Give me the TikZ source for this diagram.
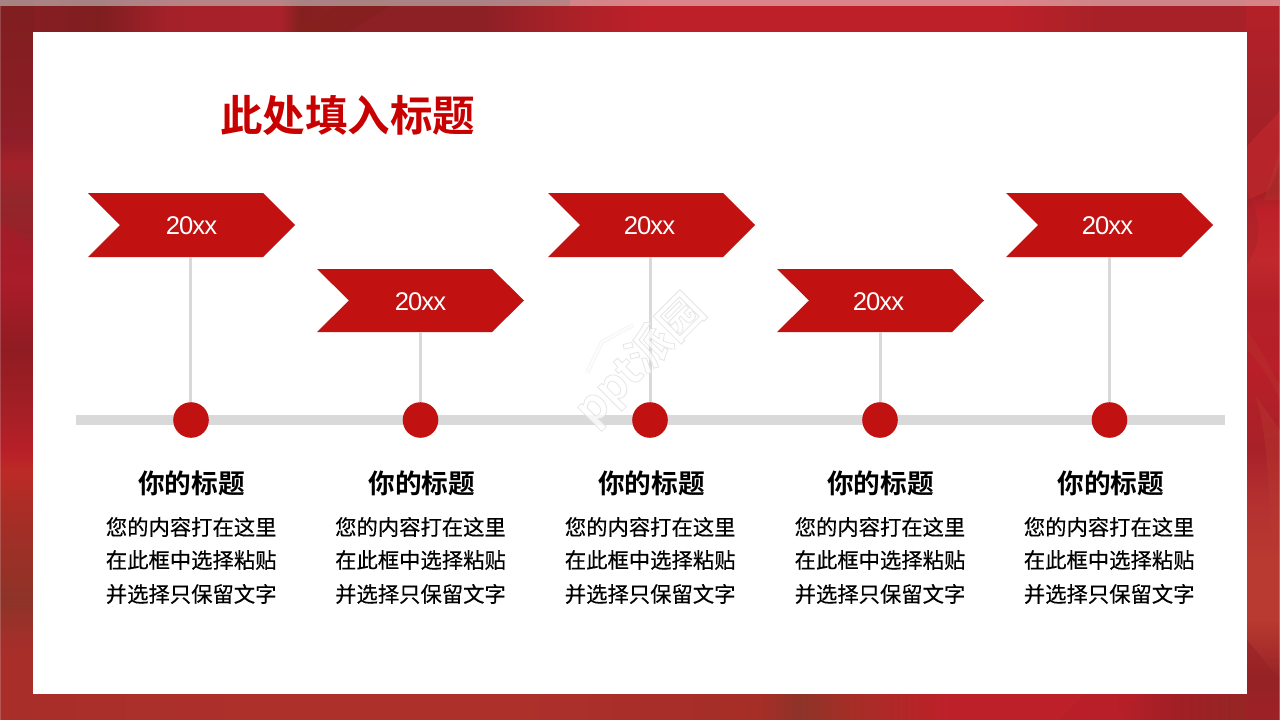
\documentclass[tikz,border=0pt]{standalone}
\usepackage{fontspec}
\setmainfont{Liberation Sans}
\newfontfamily\yearfont[LetterSpace=-3.5]{Liberation Sans}
\newfontfamily\cjk[FakeBold=0.3]{Noto Sans CJK SC}
\newfontfamily\cjkb{Noto Sans CJK SC Bold}
\newfontfamily\wmfont{Noto Sans CJK SC Bold}
\usetikzlibrary{calc}
\definecolor{brand}{HTML}{C11111}
\definecolor{titlered}{HTML}{C80000}
\definecolor{track}{HTML}{D9D9D9}
% palette for the frame
\definecolor{fa}{HTML}{8A1E24}\definecolor{fb}{HTML}{7F1E20}\definecolor{fc}{HTML}{A5212A}
\definecolor{fd}{HTML}{A9212B}\definecolor{fe}{HTML}{85201F}\definecolor{ff}{HTML}{8C2025}
\definecolor{fg}{HTML}{A82128}\definecolor{fh}{HTML}{BE2029}\definecolor{fi}{HTML}{A82E2A}
\definecolor{fj}{HTML}{AE302B}\definecolor{fk}{HTML}{8E3329}\definecolor{fl}{HTML}{8E2A22}
\definecolor{fm}{HTML}{A01F25}\definecolor{fn}{HTML}{8F1E28}\definecolor{fo}{HTML}{92262A}
\definecolor{fp}{HTML}{9A2028}\definecolor{fq}{HTML}{AA1C2A}\definecolor{fr}{HTML}{901C22}
\definecolor{fs}{HTML}{B81F28}\definecolor{ft}{HTML}{BC2A26}\definecolor{fu}{HTML}{A52E26}
\definecolor{fv}{HTML}{B52028}\definecolor{fw}{HTML}{C0282C}\definecolor{fx}{HTML}{B43030}
\definecolor{fy}{HTML}{B83A30}\definecolor{fz}{HTML}{962226}
\pgfdeclarehorizontalshading{frametop}{100bp}{color(0bp)=(fa); color(25bp)=(fa); color(28.9bp)=(fb); color(31.65bp)=(fc); color(35.95bp)=(fd); color(36.7bp)=(fe); color(38.65bp)=(ff); color(43.75bp)=(ff); color(46.9bp)=(fg); color(50.4bp)=(fh); color(56.25bp)=(fh); color(64.05bp)=(fh); color(67.95bp)=(fg); color(75bp)=(fg); color(100bp)=(fg)}
\pgfdeclarehorizontalshading{framebot}{100bp}{color(0bp)=(fi); color(25bp)=(fi); color(36.7bp)=(fj); color(44.55bp)=(fj); color(50.4bp)=(fi); color(54.7bp)=(fu); color(56.25bp)=(fk); color(58.2bp)=(fu); color(62.1bp)=(fh); color(67.95bp)=(fh); color(71.1bp)=(fm); color(75bp)=(fl); color(100bp)=(fl)}
\pgfdeclareverticalshading{frameleft}{100bp}{color(0bp)=(fb); color(25bp)=(fb); color(31.95bp)=(fa); color(34.7bp)=(fn); color(36.45bp)=(fc); color(38.9bp)=(fo); color(41.65bp)=(fp); color(44.45bp)=(fq); color(49.3bp)=(fr); color(52.8bp)=(fm); color(56.25bp)=(fs); color(57.65bp)=(ft); color(61.1bp)=(fu); color(66.65bp)=(fk); color(70.15bp)=(fi); color(75bp)=(fi); color(100bp)=(fi)}
\pgfdeclareverticalshading{frameright}{100bp}{color(0bp)=(fv); color(25bp)=(fv); color(31.95bp)=(fg); color(38.2bp)=(fm); color(39.6bp)=(fh); color(43.05bp)=(fw); color(45.85bp)=(fv); color(50.7bp)=(fs); color(56.25bp)=(fg); color(59.7bp)=(fx); color(63.9bp)=(fy); color(68.05bp)=(fy); color(72.2bp)=(fz); color(75bp)=(fg); color(100bp)=(fg)}
\tikzset{
  x=1pt,y=-1pt,
  ribbon/.style={fill=brand,draw=none},
  stem/.style={draw=track,line width=3pt},
  rail/.style={draw=track,line width=10pt},
  dot/.style={circle,fill=brand,draw=none,minimum size=35.6pt,inner sep=0pt},
  yearlab/.style={text=white,font=\yearfont\fontsize{25.6}{26}\selectfont,inner sep=0pt,anchor=center},
  titlelab/.style={text=titlered,font=\cjkb\fontsize{42.5}{46}\selectfont,inner sep=0pt,anchor=center},
  headlab/.style={text=black,font=\cjkb\fontsize{26.67}{30}\selectfont,inner sep=0pt,anchor=center},
  bodylab/.style={text=black,font=\cjk\fontsize{21.33}{25}\selectfont,inner sep=0pt,anchor=center},
  wmface/.style={text=white,opacity=.75,font=\wmfont\fontsize{44}{48}\selectfont,inner sep=0pt,rotate=45},
}
\begin{document}
\begin{tikzpicture}
\useasboundingbox (0,0) rectangle (1280,720);
% frame
\shade[shading=frametop] (0,0) rectangle (1280,34);
\shade[shading=framebot] (0,692) rectangle (1280,720);
\shade[shading=frameleft,shading angle=180] (0,0) rectangle (34,720);
\shade[shading=frameright,shading angle=180] (1246,0) rectangle (1280,720);
\begin{scope}
\clip (0,0) rectangle (1280,720);
% streaks in the frame
\fill[fe,opacity=.8] (293,34) -- (345,0) -- (400,0) -- (345,34) -- cycle;
\fill[fq,opacity=.5] (0,222) -- (33,245) -- (33,290) -- (0,262) -- cycle;
\fill[fw,opacity=.7] (1247,147) .. controls (1262,128) and (1272,122) .. (1280,110) -- (1280,160) .. controls (1270,200) and (1265,190) .. (1247,200) -- cycle;
\fill[fy,opacity=.35] (1264,200) -- (1280,150) -- (1280,200) -- cycle;
\fill[fz,opacity=.3] (1247,190) .. controls (1262,220) and (1262,240) .. (1247,265) -- cycle;
\fill[fy,opacity=.3] (1247,330) .. controls (1262,350) and (1270,370) .. (1280,385) -- (1280,400) .. controls (1268,375) and (1258,360) .. (1247,350) -- cycle;
\fill[fy,opacity=.4] (1255,395) .. controls (1265,420) and (1268,470) .. (1272,540) -- (1280,540) -- (1280,430) -- cycle;
\fill[fz,opacity=.6] (1247,640) -- (1280,680) -- (1280,720) -- (1247,720) -- cycle;
\fill[fs,opacity=.8] (1085,694) -- (1140,694) -- (1110,720) -- (1060,720) -- cycle;
\end{scope}
% light edges
\fill[white,opacity=.45] (0,0) rectangle (570,6);
\fill[white,opacity=.45] (570,0) rectangle (1280,6);
\fill[gray,opacity=.3] (0,0) rectangle (570,6);
\fill[white,opacity=.18] (0,6) rectangle (1,720);
\fill[white,opacity=.25] (1279,6) rectangle (1280,720);
% panel
\fill[white] (33,32) rectangle (1247,694);

% timeline rail
\coordinate (railL) at (76,420);
\coordinate (railR) at (1225,420);
\draw[rail] (railL) -- (railR);

% title
\node[titlelab] (title) at (347.5,115) {此处填入标题};

% stems, ribbons, labels
\foreach \id/\rx/\ry/\rb/\dx/\sx/\yx/\hx/\bx in {
  a/88/193/257/191/190.7/191.5/191.5/191.2,
  b/317/269/332/420.5/420.5/420.5/421.7/420.5,
  c/548/193/257/650/650.5/649.5/651.5/650.2,
  d/777/269/332/880/880.5/878.5/880.5/880,
  e/1006/193/257/1109.5/1109.5/1107.5/1110.7/1109.2}{
  \fill[ribbon] (\rx,\ry) -- ({\rx+175},\ry) -- ({\rx+207},{(\ry+\rb)/2}) -- ({\rx+175},\rb)
     -- (\rx,\rb) -- ({\rx+32},{(\ry+\rb)/2}) -- cycle;
  \coordinate (foot\id) at (\sx,\rb);
  \node[dot] (dot\id) at (\dx,420) {};
  \draw[stem] (foot\id) -- (foot\id |- dot\id.north);
  \node[yearlab] (year\id) at (\yx,{(\ry+\rb)/2+1}) {20xx};
  \node[headlab] (head\id) at (\hx,483) {你的标题};
  \node[bodylab] (bodya\id) at (\bx,527) {您的内容打在这里};
  \node[bodylab] (bodyb\id) at (\bx,560) {在此框中选择粘贴};
  \node[bodylab] (bodyc\id) at (\bx,594) {并选择只保留文字};
}

% watermark
\node[wmface] (wmf) at (640,360) {\special{pdf:code 2 Tr 0.8 w 0.87 0.87 0.87 RG}ppt派园\special{pdf:code 0 Tr}};
\draw[black,opacity=.05,line width=4pt,line join=round] (587,373) -- (602,342) -- (633,325);
\draw[white,opacity=.8,line width=2.5pt,line join=round] (587,373) -- (602,342) -- (633,325);
\end{tikzpicture}
\end{document}
